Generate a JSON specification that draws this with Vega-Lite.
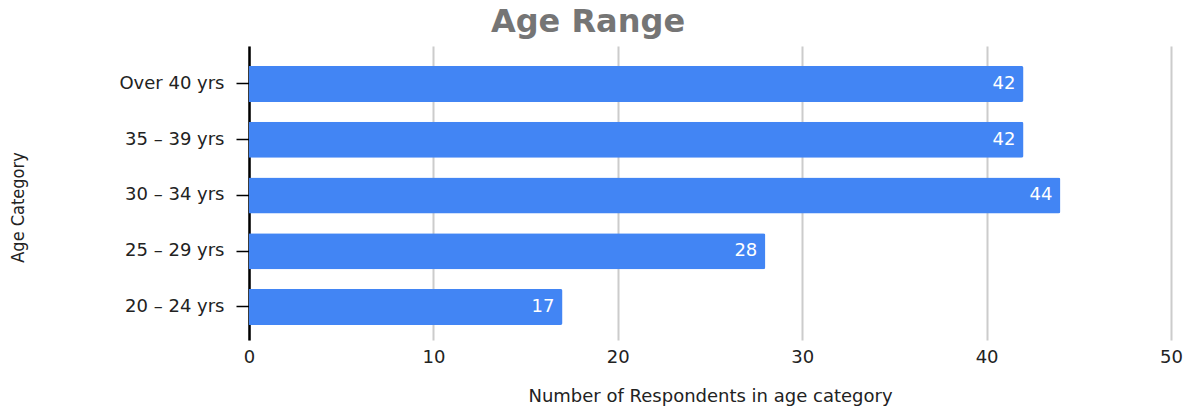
{
  "$schema": "https://vega.github.io/schema/vega-lite/v6.json",
  "width": 922,
  "height": 294,
  "autosize": "none",
  "padding": {"left": 249, "top": 46, "right": 19, "bottom": 69},
  "background": "white",
  "config": {
    "view": {"stroke": null},
    "font": "DejaVu Sans"
  },
  "title": {
    "text": "Age Range",
    "fontSize": 32,
    "fontWeight": "bold",
    "color": "#757575",
    "font": "DejaVu Sans",
    "anchor": "middle",
    "dx": -122,
    "offset": 7
  },
  "data": {
    "values": [
      {"age": "Over 40 yrs", "count": 42},
      {"age": "35 – 39 yrs", "count": 42},
      {"age": "30 – 34 yrs", "count": 44},
      {"age": "25 – 29 yrs", "count": 28},
      {"age": "20 – 24 yrs", "count": 17}
    ]
  },
  "encoding": {
    "y": {
      "field": "age",
      "type": "nominal",
      "sort": null,
      "scale": {"paddingInner": 0.354, "paddingOuter": 0.314, "align": 0.57},
      "axis": {
        "title": "Age Category",
        "titleFont": "DejaVu Sans Condensed, Liberation Sans, sans-serif",
        "titleFontSize": 18,
        "titleFontWeight": "normal",
        "titleColor": "#222222",
        "titleX": -231,
        "titleY": 161,
        "titleAngle": -90,
        "titleAlign": "center",
        "titleBaseline": "middle",
        "labelFontSize": 18,
        "labelColor": "#222222",
        "labelPadding": 12,
        "tickSize": 13,
        "tickColor": "#000000",
        "tickWidth": 1.5,
        "domainColor": "#000000",
        "domainWidth": 2.5,
        "grid": false
      }
    },
    "x": {
      "field": "count",
      "type": "quantitative",
      "scale": {"domain": [0, 50]},
      "axis": {
        "title": "Number of Respondents in age category",
        "titleFontSize": 18,
        "titleFontWeight": "normal",
        "titleColor": "#222222",
        "titleY": 56,
        "titleBaseline": "middle",
        "values": [0, 10, 20, 30, 40, 50],
        "labelFontSize": 18,
        "labelColor": "#222222",
        "labelPadding": 8,
        "labelFlush": false,
        "ticks": false,
        "domain": false,
        "grid": true,
        "gridColor": "#cccccc",
        "gridWidth": 2
      }
    }
  },
  "layer": [
    {
      "mark": {"type": "bar", "color": "#4285F4", "cornerRadiusEnd": 2}
    },
    {
      "mark": {"type": "text", "align": "right", "baseline": "middle", "dx": -8, "color": "white", "fontSize": 18},
      "encoding": {
        "text": {"field": "count", "type": "quantitative"}
      }
    }
  ]
}
